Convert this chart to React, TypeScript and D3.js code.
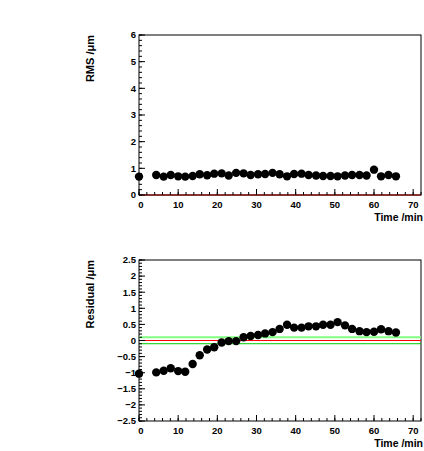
import React from "react";
import * as d3 from "d3";

// time of each measurement (min)
const times = [
  0, 4.4, 6.3, 8.1, 10.0, 11.8, 13.7, 15.5, 17.4, 19.2, 21.1, 22.9, 24.8, 26.7,
  28.5, 30.4, 32.2, 34.1, 35.9, 37.8, 39.6, 41.5, 43.3, 45.2, 47.0, 48.9, 50.7,
  52.6, 54.4, 56.3, 58.1, 60.0, 61.8, 63.7, 65.6,
];
const rms = [
  0.69, 0.75, 0.69, 0.75, 0.7, 0.69, 0.71, 0.78, 0.74, 0.8, 0.81, 0.73, 0.83,
  0.81, 0.75, 0.78, 0.79, 0.83, 0.78, 0.7, 0.79, 0.8, 0.75, 0.73, 0.71, 0.71,
  0.7, 0.73, 0.75, 0.75, 0.73, 0.95, 0.7, 0.75, 0.7,
];
const residual = [
  -1.03, -0.99, -0.94, -0.86, -0.95, -0.97, -0.73, -0.46, -0.28, -0.21, -0.06,
  -0.02, -0.02, 0.1, 0.14, 0.17, 0.22, 0.26, 0.36, 0.49, 0.4, 0.4, 0.44, 0.44,
  0.49, 0.49, 0.57, 0.47, 0.36, 0.29, 0.26, 0.27, 0.35, 0.29, 0.25,
];
const xTicks = [0, 10, 20, 30, 40, 50, 60, 70];
const rmsTicks = [0, 1, 2, 3, 4, 5, 6];
const resTicks = [-2.5, -2, -1.5, -1, -0.5, 0, 0.5, 1, 1.5, 2, 2.5];

const font = "'Liberation Sans', Arial, Helvetica, sans-serif";

type Props = {
  top: number;
  bottom: number;
  yDomain: [number, number];
  yTicks: number[];
  yMinorStep: number;
  values: number[];
  yTitle: string;
  children?: (x: d3.ScaleLinear<number, number>, y: d3.ScaleLinear<number, number>) => React.ReactNode;
};

function Panel({ top, bottom, yDomain, yTicks, yMinorStep, values, yTitle, children }: Props) {
  const left = 139;
  const right = 421;
  const x = d3.scaleLinear().domain([0, 72]).range([left, right]);
  const y = d3.scaleLinear().domain(yDomain).range([bottom, top]);
  const xMinor = d3.range(0, 72.01, 2);
  const yMinor = d3.range(yDomain[0], yDomain[1] + 1e-6, yMinorStep);
  return (
    <g>
      <rect x={left} y={top} width={right - left} height={bottom - top} fill="white" stroke="black" strokeWidth={1} />
      {children && children(x, y)}
      {/* minor ticks */}
      {xMinor.map((t, i) => (
        <line key={"xm" + i} x1={x(t)} x2={x(t)} y1={bottom} y2={bottom - 3} stroke="black" />
      ))}
      {xTicks.map((t) => (
        <line key={"xM" + t} x1={x(t)} x2={x(t)} y1={bottom} y2={bottom - 6} stroke="black" />
      ))}
      {yMinor.map((t, i) => (
        <line key={"ym" + i} x1={left} x2={left + 3} y1={y(t)} y2={y(t)} stroke="black" />
      ))}
      {yTicks.map((t) => (
        <line key={"yM" + t} x1={left} x2={left + 6} y1={y(t)} y2={y(t)} stroke="black" />
      ))}
      {values.map((v, i) => (
        <circle key={"p" + i} cx={x(times[i])} cy={y(v)} r={4.2} fill="black" />
      ))}
      {xTicks.map((t) => (
        <text key={"xl" + t} x={x(t) + (t === 0 ? 2 : 0)} y={bottom + 13} textAnchor="middle"
          fontFamily={font} fontWeight="bold" fontSize={9.5}>{t}</text>
      ))}
      {yTicks.map((t) => (
        <text key={"yl" + t} x={left - 3} y={y(t) + 3.3} textAnchor="end"
          fontFamily={font} fontWeight="bold" fontSize={9.5}>{t < 0 ? "\u2212" + Math.abs(t) : t}</text>
      ))}
      <text x={423} y={bottom + 26} textAnchor="end" fontFamily={font} fontWeight="bold" fontSize={10.5}>Time /min</text>
      <text transform={`translate(94,${top}) rotate(-90)`} textAnchor="end" fontFamily={font}
        fontWeight="bold" fontSize={11}>{yTitle}</text>
    </g>
  );
}

export default function App() {
  return (
    <svg width={424} height={451} style={{ position: "absolute", left: 0, top: 0, background: "white" }}>
      <Panel top={35} bottom={195} yDomain={[0, 6]} yTicks={rmsTicks} yMinorStep={0.2} values={rms} yTitle="RMS /μm">
        {(x, y) => (
          <line x1={x(0)} x2={x(72)} y1={y(0)} y2={y(0)} stroke="#8b1a1a" strokeWidth={1.5} />
        )}
      </Panel>
      <Panel top={260} bottom={421} yDomain={[-2.5, 2.5]} yTicks={resTicks} yMinorStep={0.1} values={residual} yTitle="Residual /μm">
        {(x, y) => (
          <g>
            <line x1={x(0)} x2={x(72)} y1={y(0.1)} y2={y(0.1)} stroke="#80ff80" strokeWidth={2} />
            <line x1={x(0)} x2={x(72)} y1={y(0)} y2={y(0)} stroke="#ff0000" strokeWidth={1} />
            <line x1={x(0)} x2={x(72)} y1={y(-0.1)} y2={y(-0.1)} stroke="#00cc00" strokeWidth={1} />
          </g>
        )}
      </Panel>
    </svg>
  );
}
